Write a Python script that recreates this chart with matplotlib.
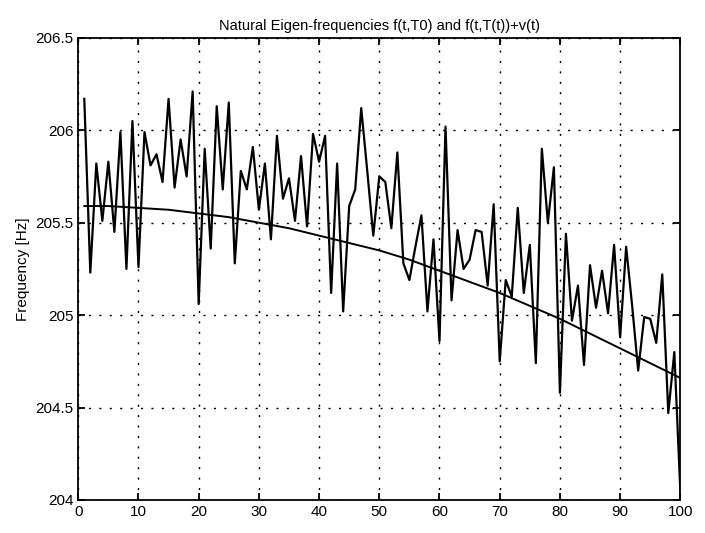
import matplotlib.pyplot as plt
from matplotlib.ticker import FixedLocator

plt.rcParams['font.family'] = ['Liberation Sans', 'DejaVu Sans']

# measured signal f(t,T(t))+v(t), one value per t = 1..100
t_meas = list(range(1, 101))
f_meas = [206.17, 205.23, 205.82, 205.51, 205.83, 205.45, 205.99, 205.25, 206.05, 205.26,
          205.99, 205.81, 205.87, 205.72, 206.17, 205.69, 205.95, 205.75, 206.21, 205.06,
          205.90, 205.36, 206.13, 205.68, 206.15, 205.28, 205.78, 205.68, 205.91, 205.57,
          205.82, 205.41, 205.97, 205.63, 205.74, 205.51, 205.86, 205.48, 205.98, 205.83,
          205.97, 205.12, 205.82, 205.02, 205.59, 205.68, 206.12, 205.78, 205.43, 205.75,
          205.72, 205.47, 205.88, 205.28, 205.19, 205.37, 205.54, 205.02, 205.41, 204.86,
          206.02, 205.08, 205.46, 205.25, 205.30, 205.46, 205.45, 205.16, 205.60, 204.75,
          205.19, 205.10, 205.58, 205.12, 205.38, 204.74, 205.90, 205.50, 205.80, 204.58,
          205.44, 204.97, 205.16, 204.73, 205.27, 205.04, 205.24, 205.01, 205.38, 204.88,
          205.37, 205.05, 204.70, 204.99, 204.98, 204.85, 205.22, 204.47, 204.80, 204.05]

# natural eigen-frequency f(t,T0)
t_nat = [1, 5, 10, 15, 20, 25, 30, 35, 40, 45, 50, 55, 60, 65, 70, 75, 80, 85, 90, 95, 100]
f_nat = [205.59, 205.59, 205.58, 205.57, 205.55, 205.53, 205.50, 205.47, 205.43, 205.39,
         205.35, 205.30, 205.24, 205.18, 205.12, 205.05, 204.98, 204.90, 204.82, 204.74, 204.66]

xticks = [0, 10, 20, 30, 40, 50, 60, 70, 80, 90, 100]
yticks = [204, 204.5, 205, 205.5, 206, 206.5]
ytick_labels = ['204', '204.5', '205', '205.5', '206', '206.5']

fig = plt.figure(figsize=(7.05, 5.33), dpi=100)
ax = fig.add_axes([0.111, 0.062, 0.854, 0.867])

ax.plot(t_meas, f_meas, color='black', linewidth=1.6)
ax.plot(t_nat, f_nat, color='black', linewidth=1.4)

ax.set_xlim(0, 100)
ax.set_ylim(204, 206.5)
ax.xaxis.set_major_locator(FixedLocator(xticks))
ax.set_yticks(yticks)
ax.set_yticklabels(ytick_labels)
ax.tick_params(direction='in', length=5, labelsize=11, top=True, right=True, width=1.3)
ax.grid(True, color='black', linestyle=(0, (1.5, 6)), linewidth=1.0)
for s in ax.spines.values():
    s.set_linewidth(1.3)

ax.set_title('Natural Eigen-frequencies f(t,T0) and f(t,T(t))+v(t)', fontsize=10.5, pad=6)
ax.set_ylabel('Frequency [Hz]', fontsize=11)

fig.savefig('out.png', dpi=100)
